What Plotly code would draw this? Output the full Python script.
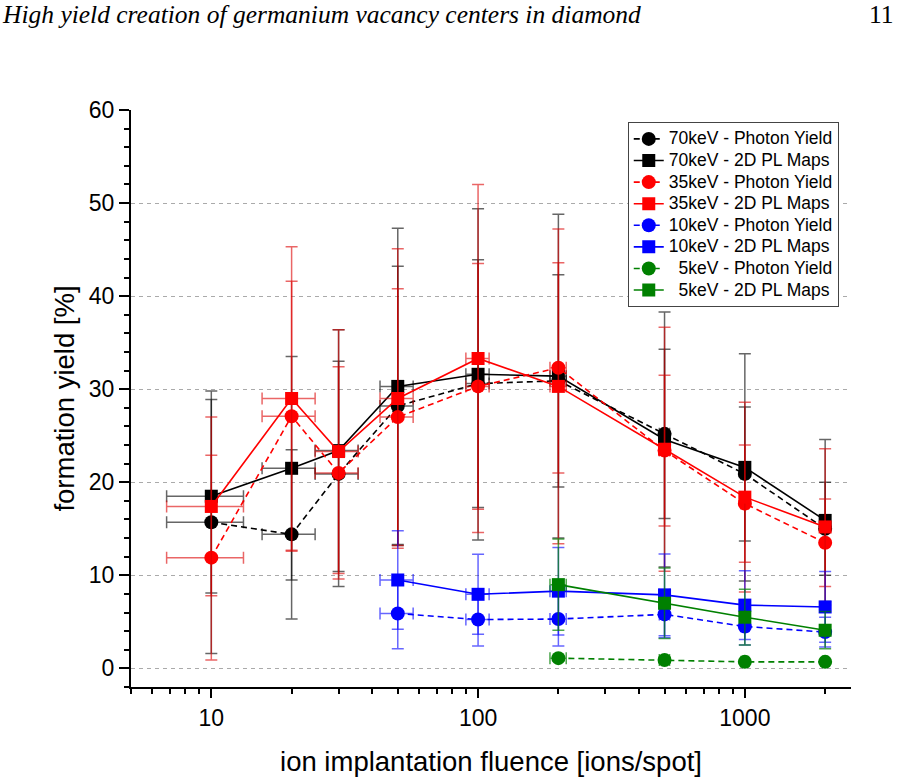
import plotly.graph_objects as go

# ---- data ----
fluence = [10, 20, 30, 50, 100, 200, 500, 1000, 2000]
fluence_err = [3.2, 4.5, 5.5, 7.1, 10, 14, 22, 32, 45]

k70_py = [15.7, 14.4, 20.9, 28.2, 30.6, 30.9, 25.2, 20.9, 15.0]
k70_py_err = [14.1, 9.1, 12.1, 15.0, 13.3, 11.4, 9.1, 7.2, 5.0]
k70_pl = [18.5, 21.5, 23.4, 30.3, 31.6, 31.4, 24.6, 21.6, 15.9]
k70_pl_err = [10.4, 12.0, 13.0, 17.0, 17.8, 17.4, 13.7, 12.2, 8.7]

k35_py = [11.9, 27.1, 21.0, 27.0, 30.3, 32.3, 23.4, 17.7, 13.5]
k35_py_err = [11.0, 14.5, 11.4, 13.8, 13.2, 11.3, 8.1, 6.3, 4.7]
k35_pl = [17.4, 29.0, 23.3, 29.0, 33.3, 30.3, 23.55, 18.4, 15.2]
k35_pl_err = [9.6, 16.3, 13.1, 16.1, 18.7, 16.9, 13.1, 10.2, 8.4]

fluence_10 = [50, 100, 200, 500, 1000, 2000]
fluence_10_err = [7.1, 10, 14, 22, 32, 45]
k10_py = [5.9, 5.25, 5.3, 5.8, 4.5, 3.9]
k10_py_err = [3.8, 2.85, 2.9, 2.5, 2.0, 1.6]
k10_pl = [9.5, 7.96, 8.3, 7.9, 6.8, 6.6]
k10_pl_err = [5.3, 4.3, 4.7, 4.4, 3.7, 3.8]

fluence_5 = [200, 500, 1000, 2000]
fluence_5_err = [14, 22, 32, 45]
k5_py = [1.1, 0.9, 0.7, 0.7]
k5_py_err = [0.3, 0.2, 0.2, 0.2]
k5_pl = [9.0, 7.0, 5.5, 4.1]
k5_pl_err = [4.9, 3.8, 3.0, 2.0]

series = [
    ("70keV - Photon Yield", fluence, fluence_err, k70_py, k70_py_err, "black", "rgba(0,0,0,0.6)", "circle", "dash"),
    ("70keV - 2D PL Maps", fluence, fluence_err, k70_pl, k70_pl_err, "black", "rgba(0,0,0,0.6)", "square", "solid"),
    ("35keV - Photon Yield", fluence, fluence_err, k35_py, k35_py_err, "#ff0000", "rgba(220,0,0,0.6)", "circle", "dash"),
    ("35keV - 2D PL Maps", fluence, fluence_err, k35_pl, k35_pl_err, "#ff0000", "rgba(220,0,0,0.6)", "square", "solid"),
    ("10keV - Photon Yield", fluence_10, fluence_10_err, k10_py, k10_py_err, "#0000ff", "rgba(0,0,255,0.6)", "circle", "dash"),
    ("10keV - 2D PL Maps", fluence_10, fluence_10_err, k10_pl, k10_pl_err, "#0000ff", "rgba(0,0,255,0.6)", "square", "solid"),
    ("\u00a0\u00a05keV - Photon Yield", fluence_5, fluence_5_err, k5_py, k5_py_err, "#008000", "rgba(0,128,0,0.7)", "circle", "dash"),
    ("\u00a0\u00a05keV - 2D PL Maps", fluence_5, fluence_5_err, k5_pl, k5_pl_err, "#008000", "rgba(0,128,0,0.7)", "square", "solid"),
]

FONT = "Liberation Sans, Arial, Helvetica, sans-serif"

fig = go.Figure()
for name, xs, xe, ys, ye, col, ecol, sym, dash in series:
    fig.add_trace(go.Scatter(
        x=xs, y=ys, name='<span style="font-size:17.5px">' + name + '</span>',
        mode="lines+markers",
        line=dict(color=col, width=1.6, dash="6px,4px" if dash == "dash" else "solid"),
        marker=dict(symbol=sym, size=14 if sym == "circle" else 13, color=col,
                    line=dict(width=0)),
        error_y=dict(type="data", array=ye, visible=True, color=ecol, thickness=1.5, width=6),
        error_x=dict(type="data", array=xe, visible=True, color=ecol, thickness=1.5, width=6),
    ))

xrange = [0.69897, 3.39794]
yrange = [-2, 60]
minor_x = [5, 6, 7, 8, 9, 20, 30, 40, 50, 60, 70, 80, 90,
           200, 300, 400, 500, 600, 700, 800, 900, 2000]

fig.update_layout(
    width=899, height=784,
    margin=dict(l=131, r=48, t=110, b=95),
    paper_bgcolor="white", plot_bgcolor="white",
    font=dict(family=FONT, color="black"),
    showlegend=True,
    legend=dict(
        x=0.983, y=0.979, xanchor="right", yanchor="top",
        bgcolor="white", bordercolor="#444", borderwidth=1,
        font=dict(family=FONT, size=14.3, color="black"),
        tracegroupgap=0, itemwidth=30,
    ),
    xaxis=dict(
        type="log", range=xrange,
        showline=True, linecolor="black", linewidth=2,
        ticks="outside", ticklen=9, tickwidth=1.5, tickcolor="black",
        tickvals=[10, 100, 1000], ticktext=["10", "100", "1000"],
        tickfont=dict(size=23, family=FONT),
        minor=dict(ticks="outside", ticklen=5, tickwidth=1.5, tickcolor="black",
                   tickvals=minor_x),
        showgrid=False, zeroline=False,
        title=dict(text="ion implantation fluence [ions/spot]",
                   font=dict(size=27.5, family=FONT), standoff=22),
    ),
    yaxis=dict(
        range=yrange,
        showline=True, linecolor="black", linewidth=2,
        ticks="outside", ticklen=10, tickwidth=1.5, tickcolor="black",
        tickvals=[0, 10, 20, 30, 40, 50, 60],
        tickfont=dict(size=23, family=FONT),
        minor=dict(ticks="outside", ticklen=5, tickwidth=1.5, tickcolor="black",
                   dtick=2, showgrid=False),
        showgrid=True, gridcolor="#aaaaaa", gridwidth=1, griddash="4px,4px",
        zeroline=False,
        title=dict(text="formation yield [%]", font=dict(size=27.5, family=FONT), standoff=6),
    ),
    xaxis2=dict(
        type="log", range=xrange, overlaying="x", side="top", anchor="y",
        showline=True, linecolor="black", linewidth=2,
        ticks="inside", ticklen=9, tickwidth=1.5, tickcolor="black",
        tickvals=[10, 100, 1000], showticklabels=False,
        minor=dict(ticks="inside", ticklen=5, tickwidth=1.5, tickcolor="black",
                   tickvals=minor_x),
        showgrid=False, zeroline=False,
    ),
    yaxis2=dict(
        range=yrange, overlaying="y", side="right", anchor="x",
        showline=True, linecolor="black", linewidth=2,
        ticks="inside", ticklen=10, tickwidth=1.5, tickcolor="black",
        tickvals=[0, 10, 20, 30, 40, 50, 60], showticklabels=False,
        minor=dict(ticks="inside", ticklen=5, tickwidth=1.5, tickcolor="black", dtick=2),
        showgrid=False, zeroline=False,
    ),
    annotations=[
        dict(text="<i>High yield creation of germanium vacancy centers in diamond</i>",
             xref="paper", yref="paper", x=-131/720, y=1 + 96/579,
             xanchor="left", yanchor="middle", showarrow=False,
             font=dict(family="Liberation Serif, DejaVu Serif, serif", size=25.5, color="black")),
        dict(text="11",
             xref="paper", yref="paper", x=1 + 45/720, y=1 + 96/579,
             xanchor="right", yanchor="middle", showarrow=False,
             font=dict(family="Liberation Serif, DejaVu Serif, serif", size=25.5, color="black")),
    ],
)

fig.write_html("out.html")
